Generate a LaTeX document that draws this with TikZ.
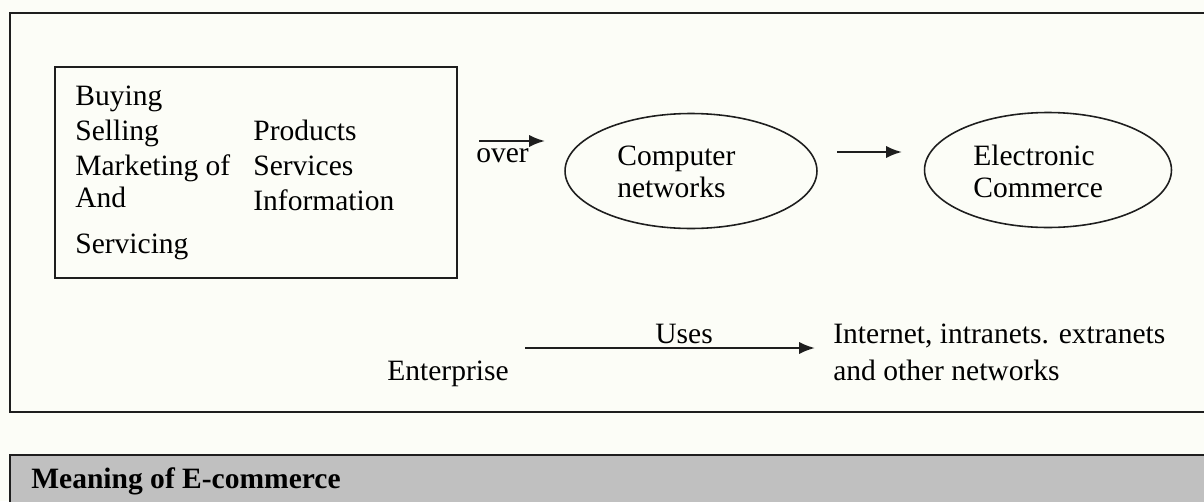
\documentclass[tikz,border=0pt]{standalone}
\usepackage{fontspec}
\setmainfont{Liberation Serif}
\usetikzlibrary{shapes.geometric,arrows.meta}

\definecolor{paper}{RGB}{252,253,247}
\definecolor{barfill}{RGB}{192,192,192}
\definecolor{ink}{RGB}{30,30,30}

\begin{document}
\begin{tikzpicture}[x=0.02cm, y=-0.02cm,
    txt/.style={anchor=base west, inner sep=0pt, font=\fontsize{16.8}{20}\selectfont},
    frame/.style={draw=ink, line width=1.3pt},
    ell/.style={draw=ink, line width=0.9pt, ellipse, minimum width=5.04cm, minimum height=2.3cm},
    flow/.style={draw=ink, line width=1.3pt, -{Latex[length=9pt,width=7pt]}}]
  % page area, everything off the right edge is cut away
  \clip (0,0) rectangle (1204,501);
  \fill[paper] (0,0) rectangle (1204,501);

  % --- outer frame and title bar (both run past the right edge) ---
  \draw[frame] (10,13) rectangle (1230,412);
  \filldraw[frame, fill=barfill] (10,455) rectangle (1230,530);
  \node[txt, font=\fontsize{16.8}{20}\selectfont\bfseries] (title) at (31,488) {Meaning of E-commerce};

  % --- activities box ---
  \node[frame, minimum width=8.04cm, minimum height=4.22cm] (acts) at (256,172.5) {};
  \foreach \w/\yy [count=\i] in {Buying/105, Selling/140, Marketing of/175, And/207, Servicing/253}
    \node[txt] (verb\i) at (75,\yy) {\w};
  \foreach \w/\yy [count=\i] in {Products/140, Services/175, Information/210}
    \node[txt] (item\i) at (253,\yy) {\w};

  % "over" arrow
  \coordinate (over-a) at (479,141);
  \coordinate (over-b) at (545,141);
  \draw[flow] (over-a) -- (over-b);
  \node[txt] (over) at (476,162) {over};

  % --- the two ellipses ---
  \node[ell] (cn) at (691,171) {};
  \node[ell, minimum width=4.94cm] (ec) at (1048,170) {};
  \node[txt] (cn-top) at (617,165) {Computer};
  \node[txt] (cn-bot) at (617,197) {networks};
  \node[txt] (ec-top) at (973,165) {Electronic};
  \node[txt] (ec-bot) at (973,197) {Commerce};

  \coordinate (mid-a) at (837,152);
  \coordinate (mid-b) at (902,152);
  \draw[flow] (mid-a) -- (mid-b);

  % --- lower row ---
  \node[txt] (ent) at (387,380) {Enterprise};
  \node[txt] (net-top) at (833,343) {Internet, intranets. extranets};
  \node[txt] (net-bot) at (833,380) {and other networks};
  \coordinate (uses-a) at (525,348);
  \coordinate (uses-b) at (815,348);
  \draw[flow] (uses-a) -- (uses-b);
  \node[txt] (uses) at (655,343) {Uses};
\end{tikzpicture}
\end{document}
